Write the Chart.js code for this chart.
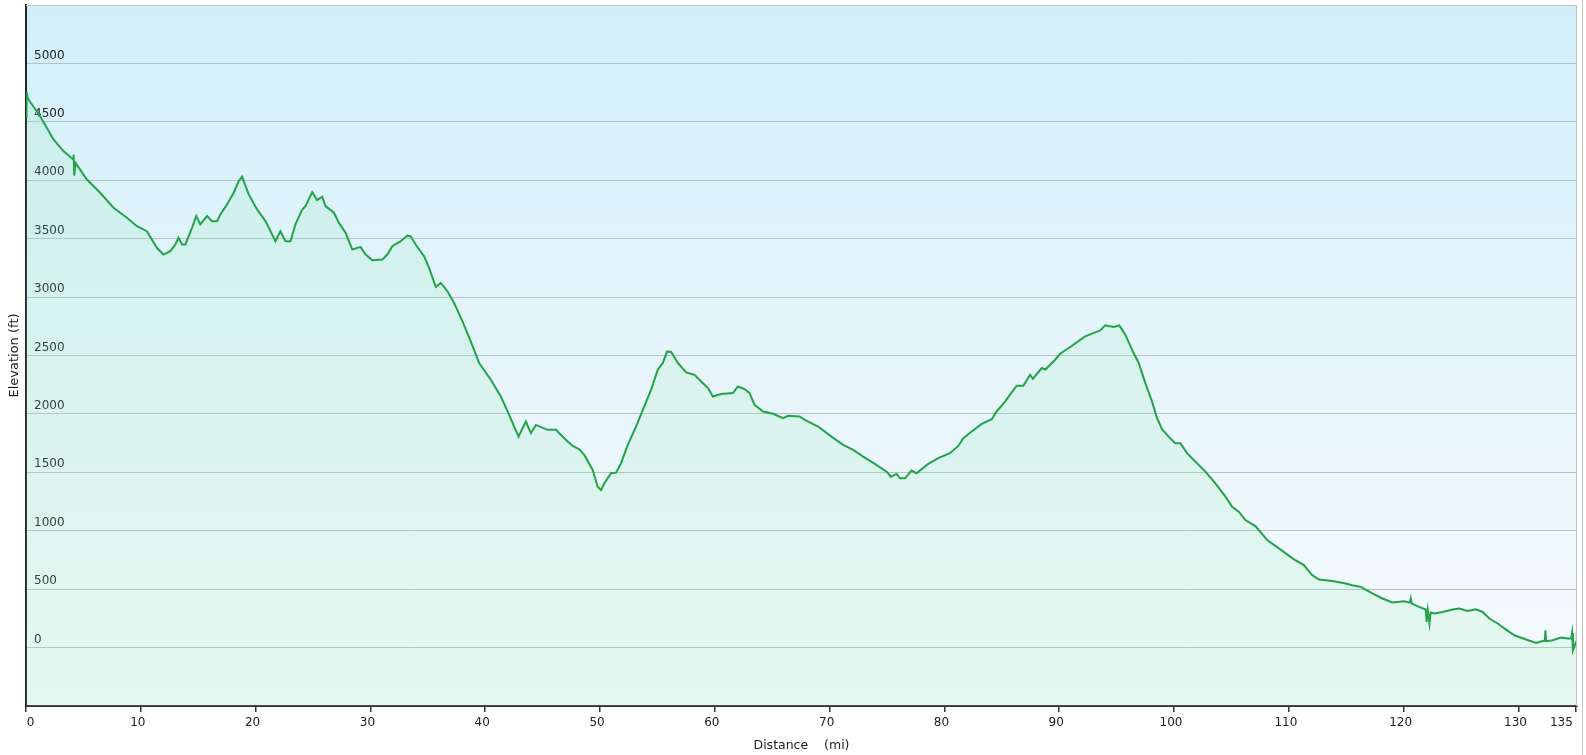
<!DOCTYPE html>
<html>
<head>
<meta charset="utf-8">
<title>Elevation profile</title>
<script src="https://cdn.jsdelivr.net/npm/chart.js@4/dist/chart.umd.min.js"></script>
<style>
  html, body { margin: 0; padding: 0; background: #fff; }
  #wrap { width: 1586px; height: 755px; position: relative; }
</style>
</head>
<body>
<div id="wrap"><canvas id="elevationChart"></canvas></div>
<script>
// distance (mi) along the route
const distances = [
  0, 0.05, 0.15, 1.22, 2.38, 3.26, 4.1, 4.15, 4.2, 4.3,
  5.29, 6.46, 7.62, 8.79, 9.66, 10.53, 11.4, 11.98, 12.57, 13.0,
  13.29, 13.59, 13.88, 14.17, 14.46, 14.83, 15.18, 15.77, 16.2, 16.64,
  16.93, 17.51, 18.09, 18.53, 18.82, 19.4, 20.13, 20.86, 21.73, 22.16,
  22.6, 23.04, 23.47, 24.06, 24.35, 24.93, 25.36, 25.8, 26.09, 26.82,
  27.25, 27.84, 28.42, 29.14, 29.58, 30.17, 31.04, 31.47, 31.91, 32.64,
  33.22, 33.5, 33.94, 34.67, 35.11, 35.69, 36.13, 36.71, 37.29, 38.02,
  38.74, 39.47, 40.49, 41.36, 42.09, 42.52, 42.9, 43.54, 43.98, 44.42,
  45.44, 46.16, 46.88, 47.62, 48.19, 48.63, 49.36, 49.8, 50.09, 50.38,
  50.96, 51.4, 51.83, 52.42, 53.14, 53.73, 54.45, 55.03, 55.47, 55.85,
  56.2, 56.78, 57.5, 58.23, 58.81, 59.4, 59.83, 60.56, 61.58, 62.01,
  62.59, 63.03, 63.46, 64.2, 65.07, 65.94, 66.38, 67.39, 67.83, 69.0,
  70.16, 71.18, 72.05, 72.92, 73.94, 74.96, 75.33, 75.83, 76.12, 76.56,
  77.14, 77.57, 78.59, 79.47, 80.48, 81.21, 81.65, 82.37, 83.25, 84.12,
  84.55, 85.28, 85.86, 86.3, 86.88, 87.46, 87.7, 88.48, 88.8, 89.64,
  90.08, 90.95, 92.26, 92.85, 93.57, 94.0, 94.74, 95.23, 95.75, 96.48,
  96.92, 97.5, 98.08, 98.52, 98.95, 99.53, 100.1, 100.55, 101.13, 101.86,
  102.73, 103.6, 104.48, 105.06, 105.64, 106.22, 107.09, 108.12, 109.13, 110.44,
  111.31, 112.04, 112.62, 113.79, 114.95, 115.53, 116.26, 117.28, 118.15, 119.02,
  120.04, 120.55, 120.62, 120.7, 121.35, 121.93, 122.0, 122.1, 122.25, 122.35,
  122.66, 123.39, 124.26, 124.84, 125.57, 126.29, 126.88, 127.46, 128.19, 128.92,
  129.64, 130.66, 131.54, 132.12, 132.3, 132.35, 132.4, 132.98, 133.71, 134.29,
  134.6, 134.67, 134.75, 135.02, 135.08, 135.1
];

// elevation (ft)
const elevations = [
  4540, 4760, 4700, 4550, 4351, 4250, 4180, 4220, 4040, 4150,
  4008, 3893, 3765, 3679, 3607, 3564, 3422, 3364, 3393, 3450,
  3508, 3450, 3450, 3521, 3593, 3693, 3622, 3693, 3650, 3650,
  3707, 3793, 3893, 3993, 4031, 3879, 3750, 3650, 3478, 3564,
  3478, 3478, 3622, 3750, 3779, 3899, 3830, 3859, 3779, 3722,
  3636, 3550, 3407, 3430, 3364, 3315, 3321, 3364, 3436, 3478,
  3527, 3520, 3450, 3350, 3250, 3087, 3121, 3050, 2950, 2792,
  2621, 2436, 2292, 2149, 1992, 1892, 1806, 1935, 1835, 1906,
  1864, 1864, 1792, 1726, 1698, 1649, 1520, 1377, 1349, 1406,
  1492, 1497, 1578, 1735, 1892, 2035, 2207, 2378, 2436, 2535,
  2530, 2436, 2355, 2335, 2278, 2221, 2149, 2170, 2178, 2235,
  2213, 2178, 2078, 2021, 2001, 1964, 1984, 1978, 1949, 1892,
  1806, 1735, 1692, 1635, 1572, 1506, 1463, 1486, 1449, 1449,
  1515, 1492, 1572, 1621, 1664, 1726, 1792, 1849, 1915, 1955,
  2021, 2106, 2184, 2241, 2241, 2335, 2300, 2393, 2380, 2464,
  2515, 2573, 2664, 2687, 2715, 2758, 2744, 2758, 2678, 2521,
  2436, 2264, 2106, 1964, 1870, 1806, 1750, 1750, 1664, 1592,
  1506, 1406, 1292, 1206, 1163, 1092, 1040, 920, 849, 755,
  706, 620, 583, 569, 549, 534, 520, 463, 420, 386,
  397, 385, 420, 377, 348, 326, 220, 320, 206, 300,
  292, 305, 326, 334, 314, 328, 305, 249, 206, 154,
  105, 69, 39, 57, 60, 148, 55, 63, 86, 77,
  80, 125, -23, 48, 130, -50
];

// x axis tick values
const xTicks = [0, 10, 20, 30, 40, 50, 60, 70, 80, 90, 100, 110, 120, 130, 135];

const chartData = distances.map((d, i) => ({ x: d, y: elevations[i] }));

// Hintergrund-Verlauf + Rahmen
const framePlugin = {
  id: 'frame',
  beforeDraw(chart) {
    const { ctx, chartArea: a } = chart;
    const g = ctx.createLinearGradient(0, a.top, 0, a.bottom);
    g.addColorStop(0, '#d1eff9');
    g.addColorStop(0.5, '#e6f5fb');
    g.addColorStop(1, '#f7fbfd');
    ctx.save();
    ctx.fillStyle = g;
    ctx.fillRect(a.left, a.top, a.right - a.left, a.bottom - a.top);
    ctx.restore();
  },
  afterDraw(chart) {
    const { ctx, chartArea: a } = chart;
    ctx.save();
    ctx.strokeStyle = '#b9c6ca';
    ctx.lineWidth = 1;
    ctx.beginPath();
    ctx.moveTo(a.left, a.top + 0.5);
    ctx.lineTo(a.right - 0.5, a.top + 0.5);
    ctx.lineTo(a.right - 0.5, a.bottom);
    ctx.stroke();
    // outer panel edge
    ctx.strokeStyle = '#c8c8c8';
    ctx.beginPath();
    ctx.moveTo(1582.5, 0);
    ctx.lineTo(1582.5, chart.height);
    ctx.stroke();
    ctx.restore();
  }
};

const family = 'DejaVu Sans, Verdana, sans-serif';
const font = { family, size: 12 };

new Chart(document.getElementById('elevationChart').getContext('2d'), {
  type: 'line',
  data: {
    datasets: [{
      label: 'Elevation (ft)',
      data: chartData,
      borderColor: '#22a347',
      borderWidth: 2,
      backgroundColor: 'rgba(150, 230, 180, 0.17)',
      fill: 'start',
      pointRadius: 0,
      tension: 0,
      parsing: false
    }]
  },
  options: {
    responsive: true,
    maintainAspectRatio: false,
    animation: false,
    layout: { padding: { top: 5, right: 9, left: 0, bottom: 0 } },
    plugins: {
      legend: { display: false },
      tooltip: { enabled: false }
    },
    scales: {
      x: {
        type: 'linear',
        min: 0,
        max: 135.1,
        afterBuildTicks: scale => { scale.ticks = xTicks.map(v => ({ value: v })); },
        afterFit: scale => { scale.height = 49; scale.paddingLeft = 0; scale.paddingRight = 0; },
        ticks: {
          color: '#222',
          font,
          padding: 4,
          align: 'inner',
          labelOffset: -3,
          maxRotation: 0,
          autoSkip: false,
          callback: v => v === 0 ? ' 0' : String(v)
        },
        grid: { drawOnChartArea: false, tickLength: 6, color: '#333', lineWidth: 1.5 },
        border: { color: '#333', width: 2 },
        title: {
          display: true,
          text: 'Distance    (mi)',
          color: '#222',
          font: { family, size: 12.5 },
          padding: { top: 0, bottom: 2 }
        }
      },
      y: {
        min: -500,
        max: 5500,
        afterFit: scale => { scale.width = 26; scale.paddingTop = 0; scale.paddingBottom = 0; },
        ticks: {
          stepSize: 500,
          mirror: true,
          padding: 8,
          labelOffset: -8,
          color: '#222',
          font,
          callback: v => (v < 0 || v > 5000) ? '' : String(v)
        },
        grid: { color: '#b5c3c7', lineWidth: 1, drawTicks: false },
        border: { color: '#222', width: 2 },
        title: {
          display: true,
          text: 'Elevation (ft)',
          color: '#222',
          font: { family, size: 13 },
          padding: { top: 7, bottom: 0 }
        }
      }
    }
  },
  plugins: [framePlugin]
});
</script>
</body>
</html>
